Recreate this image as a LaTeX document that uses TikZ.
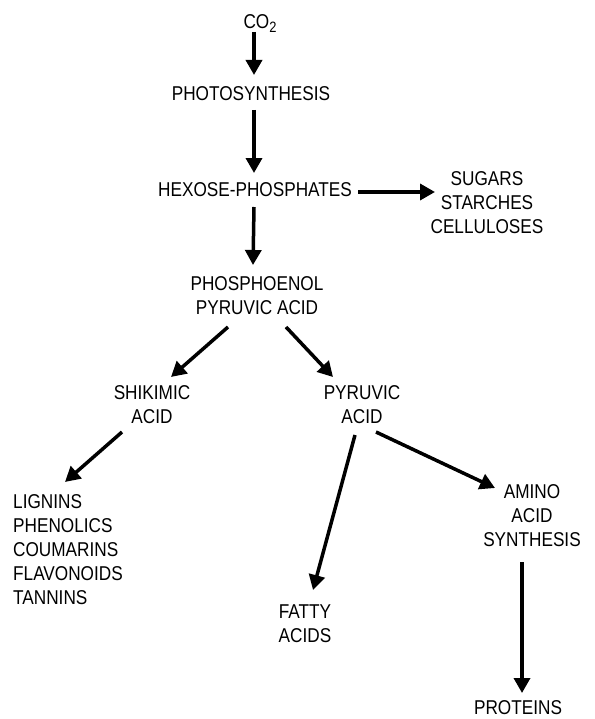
\documentclass[tikz,border=0pt]{standalone}
\usepackage{fontspec}
\setmainfont[FakeStretch=0.86]{Liberation Sans}
\usetikzlibrary{arrows.meta}
\tikzset{
  lbl/.style={inner sep=0pt, align=center, font=\fontsize{20bp}{24bp}\selectfont},
  arr/.style={line width=3.5bp, -{Triangle[length=15bp,width=16bp]}},
}
\begin{document}
\begin{tikzpicture}[x=1bp,y=-1bp]
\useasboundingbox (0,0) rectangle (595,719);
\node[lbl, text depth=0pt] (co2) at (260,22) {CO\raisebox{-4bp}{\fontsize{15bp}{15bp}\selectfont 2}};
\node[lbl] (photo) at (251,94) {PHOTOSYNTHESIS};
\node[lbl] (hexose) at (255,190) {HEXOSE-PHOSPHATES};
\node[lbl] (sugars) at (487,203) {SUGARS\\STARCHES\\CELLULOSES};
\node[lbl] (pep) at (257,296) {PHOSPHOENOL\\PYRUVIC ACID};
\node[lbl] (shik) at (152,405) {SHIKIMIC\\ACID};
\node[lbl] (pyr) at (362,405) {PYRUVIC\\ACID};
\node[lbl, align=left, anchor=west] (lignins) at (13,550) {LIGNINS\\PHENOLICS\\COUMARINS\\FLAVONOIDS\\TANNINS};
\node[lbl] (fatty) at (305,624) {FATTY\\ACIDS};
\node[lbl] (amino) at (532,516) {AMINO\\ACID\\SYNTHESIS};
\node[lbl] (proteins) at (518,708) {PROTEINS};

\draw[arr] ([shift={(-6,10)}]co2.center) -- ([shift={(3,-19)}]photo.center);
\draw[arr] ([shift={(3,16)}]photo.center) -- ([shift={(-1,-17)}]hexose.center);
\draw[arr] ([shift={(103,2)}]hexose.center) -- ([shift={(-52,-11)}]sugars.center);
\draw[arr] ([shift={(-1,17)}]hexose.center) -- ([shift={(-4,-31)}]pep.center);
\draw[arr] ([shift={(-29,31)}]pep.center) -- ([shift={(19,-28)}]shik.center);
\draw[arr] ([shift={(29,31)}]pep.center) -- ([shift={(-29,-28)}]pyr.center);
\draw[arr] ([shift={(-30,27)}]shik.center) -- ([shift={(52,-68)}]lignins.west);
\draw[arr] ([shift={(-7,30)}]pyr.center) -- ([shift={(8,-34)}]fatty.center);
\draw[arr] ([shift={(14,27)}]pyr.center) -- ([shift={(-37,-28)}]amino.center);
\draw[arr] ([shift={(-10,46)}]amino.center) -- ([shift={(4,-15)}]proteins.center);
\end{tikzpicture}
\end{document}
